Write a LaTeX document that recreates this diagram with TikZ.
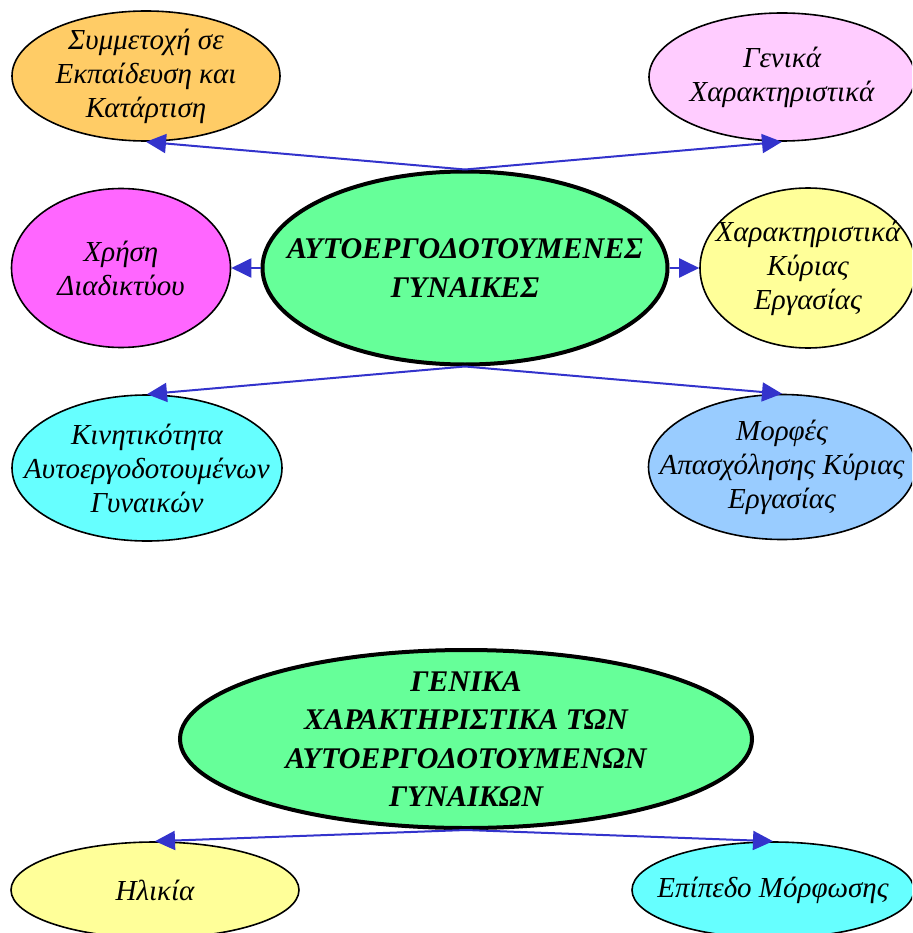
\documentclass[tikz,border=0pt]{standalone}
\usepackage{fontspec}
\setmainfont{Liberation Serif}
\usetikzlibrary{shapes.geometric,arrows.meta}
\definecolor{conn}{HTML}{3333CC}
\definecolor{cOrange}{HTML}{FFCC66}
\definecolor{cPink}{HTML}{FFCCFF}
\definecolor{cGreen}{HTML}{66FF99}
\definecolor{cMagenta}{HTML}{FF66FF}
\definecolor{cYellow}{HTML}{FFFF99}
\definecolor{cCyan}{HTML}{66FFFF}
\definecolor{cBlue}{HTML}{99CCFF}
\tikzset{
  oval/.style={ellipse, draw=black, line width=1.6pt, inner sep=0pt},
  ovaltext/.style={align=center, inner sep=0pt, font=\fontsize{29}{34}\selectfont\itshape},
  mainoval/.style={oval, line width=4pt},
  maintext/.style={align=center, inner sep=0pt, font=\fontsize{30}{38.5}\selectfont\bfseries\itshape},
  link/.style={draw=conn, line width=2pt, -{Triangle[length=20pt,width=19pt]}}
}
\begin{document}
\begin{tikzpicture}[x=1pt,y=-1pt]
\useasboundingbox (0,0) rectangle (912,933);
\clip (0,0) rectangle (912,933);
\node[oval, fill=cOrange, minimum width=268pt, minimum height=130pt,
  label={[ovaltext]center:Συμμετοχή σε\\Εκπαίδευση και\\Κατάρτιση}] (edu) at (146,76) {};
\node[oval, fill=cPink, minimum width=266pt, minimum height=128pt,
  label={[ovaltext]center:Γενικά\\Χαρακτηριστικά}] (gen) at (782,77) {};
\node[mainoval, fill=cGreen, minimum width=405pt, minimum height=193pt,
  label={[maintext]center:ΑΥΤΟΕΡΓΟΔΟΤΟΥΜΕΝΕΣ\\ΓΥΝΑΙΚΕΣ}] (main) at (465,268) {};
\node[oval, fill=cMagenta, minimum width=219pt, minimum height=159pt,
  label={[ovaltext]center:Χρήση\\Διαδικτύου}] (net) at (121,268) {};
\node[oval, fill=cYellow, minimum width=216pt, minimum height=160pt,
  label={[ovaltext]center:Χαρακτηριστικά\\Κύριας\\Εργασίας}] (work) at (808,268) {};
\node[oval, fill=cCyan, minimum width=270pt, minimum height=146pt,
  label={[ovaltext]center:Κινητικότητα\\Αυτοεργοδοτουμένων\\Γυναικών}] (mob) at (147,468) {};
\node[oval, fill=cBlue, minimum width=267pt, minimum height=145pt,
  label={[ovaltext]center:Μορφές\\Απασχόλησης Κύριας\\Εργασίας}] (form) at (782,467) {};
\node[mainoval, fill=cGreen, minimum width=572pt, minimum height=178pt,
  label={[maintext]center:ΓΕΝΙΚΑ\\ΧΑΡΑΚΤΗΡΙΣΤΙΚΑ ΤΩΝ\\ΑΥΤΟΕΡΓΟΔΟΤΟΥΜΕΝΩΝ\\ΓΥΝΑΙΚΩΝ}] (gen2) at (466,739) {};
\node[oval, fill=cYellow, minimum width=288pt, minimum height=96pt,
  label={[ovaltext]center:Ηλικία}] (age) at (155,890) {};
\node[oval, fill=cCyan, minimum width=282pt, minimum height=96pt,
  label={[ovaltext]center:Επίπεδο Μόρφωσης}] (level) at (773,890) {};
\draw[link] (main.north) -- (edu.south);
\draw[link] (main.north) -- (gen.south);
\draw[link] (main.west) -- (net.east);
\draw[link] (main.east) -- (work.west);
\draw[link] (main.south) -- (mob.north);
\draw[link] (main.south) -- (form.north);
\draw[link] (gen2.south) -- (age.north);
\draw[link] (gen2.south) -- (level.north);
\end{tikzpicture}
\end{document}
